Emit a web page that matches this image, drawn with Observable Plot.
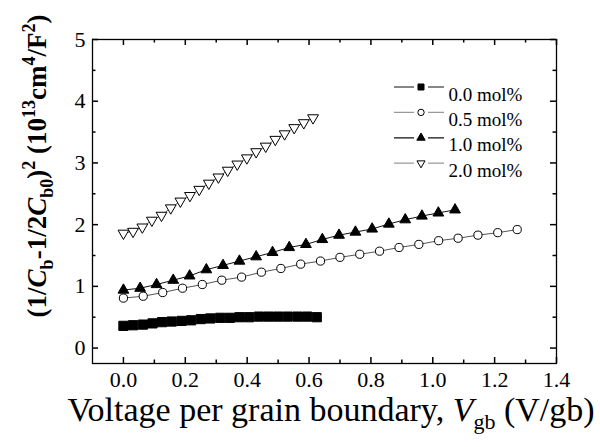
<!DOCTYPE html>
<html><head><meta charset="utf-8">
<script src="https://cdn.jsdelivr.net/npm/d3@7"></script>
<script src="https://cdn.jsdelivr.net/npm/@observablehq/plot@0.6"></script>
<style>body{margin:0;background:#fff}#chart{width:600px;height:447px}</style>
</head><body><div id="chart"></div>
<script>
const seriesNames = ["0.0 mol%", "0.5 mol%", "1.0 mol%", "2.0 mol%"];

const x00 = [0.000, 0.031, 0.063, 0.094, 0.125, 0.156, 0.188, 0.219, 0.250, 0.281, 0.313, 0.344, 0.375, 0.406, 0.438, 0.469, 0.500, 0.531, 0.563, 0.594, 0.625];
const y00 = [0.36, 0.37, 0.38, 0.40, 0.42, 0.43, 0.44, 0.45, 0.47, 0.48, 0.49, 0.49, 0.50, 0.50, 0.51, 0.51, 0.51, 0.51, 0.51, 0.51, 0.50];

const x05 = [0.000, 0.064, 0.127, 0.191, 0.255, 0.318, 0.382, 0.446, 0.509, 0.573, 0.637, 0.700, 0.764, 0.828, 0.891, 0.955, 1.019, 1.082, 1.146, 1.210, 1.273];
const y05 = [0.81, 0.84, 0.90, 0.97, 1.03, 1.10, 1.15, 1.23, 1.29, 1.36, 1.41, 1.47, 1.52, 1.57, 1.63, 1.68, 1.74, 1.78, 1.83, 1.87, 1.92];

const x10 = [0.000, 0.054, 0.107, 0.161, 0.214, 0.268, 0.322, 0.375, 0.429, 0.482, 0.536, 0.590, 0.643, 0.697, 0.750, 0.804, 0.858, 0.911, 0.965, 1.018, 1.072];
const y10 = [0.94, 0.97, 1.03, 1.10, 1.17, 1.27, 1.34, 1.41, 1.48, 1.55, 1.63, 1.68, 1.76, 1.83, 1.88, 1.93, 2.01, 2.08, 2.14, 2.19, 2.24];

const x20 = [0.000, 0.031, 0.061, 0.092, 0.123, 0.153, 0.184, 0.215, 0.245, 0.276, 0.307, 0.337, 0.368, 0.399, 0.429, 0.460, 0.491, 0.521, 0.552, 0.583, 0.613];
const y20 = [1.86, 1.89, 1.96, 2.07, 2.15, 2.27, 2.38, 2.47, 2.57, 2.67, 2.77, 2.88, 2.98, 3.08, 3.18, 3.27, 3.38, 3.47, 3.57, 3.65, 3.73];

const xTicks = [0.0, 0.2, 0.4, 0.6, 0.8, 1.0, 1.2, 1.4];
const xMinorTicks = [0.1, 0.3, 0.5, 0.7, 0.9, 1.1, 1.3];
const yTicks = [0, 1, 2, 3, 4, 5];
const yMinorTicks = [0.5, 1.5, 2.5, 3.5, 4.5];
const xDomain = [-0.1, 1.4];
const yDomain = [-0.25, 5];

const W = 600, H = 447, ML = 92, MR = 44, MT = 39, MB = 84;
// tick lengths expressed in data units of each scale
const xUnitPx = (W - ML - MR) / (xDomain[1] - xDomain[0]);
const yUnitPx = (H - MT - MB) / (yDomain[1] - yDomain[0]);

const triDown = {draw(ctx, size) {
  const y = -Math.sqrt(size / (3 * Math.sqrt(3)));
  ctx.moveTo(0, -2 * y);
  ctx.lineTo(-Math.sqrt(3) * y, y);
  ctx.lineTo(Math.sqrt(3) * y, y);
  ctx.closePath();
}};
const legendLine = {draw(ctx) { ctx.moveTo(-27, 0); ctx.lineTo(-7, 0); ctx.moveTo(7, 0); ctx.lineTo(23, 0); }};

const pts = (xs, ys) => xs.map((x, i) => ({x, y: ys[i]}));
const series = [
  {data: pts(x00, y00), line: "#111", symbol: "square", fill: "black", stroke: "black", r: 5.2, lr: 3.4},
  {data: pts(x05, y05), line: "#555", symbol: "circle", fill: "white", stroke: "black", r: 4.1, lr: 3.2},
  {data: pts(x10, y10), line: "#111", symbol: "triangle", fill: "black", stroke: "black", r: 4.0, lr: 3.1},
  {data: pts(x20, y20), line: "#666", symbol: triDown, fill: "white", stroke: "black", r: 4.0, lr: 3.0}
];
const legendLineColor = ["#111", "#999", "#111", "#999"];

const marks = [];
marks.push(Plot.frame({stroke: "black", strokeWidth: 1.3}));
for (const [t, len] of [[xTicks, 6], [xMinorTicks, 3.5]]) {
  const dyU = len / yUnitPx;
  marks.push(Plot.ruleX(t, {x: d => d, y1: () => yDomain[0], y2: () => yDomain[0] + dyU, stroke: "black", strokeWidth: 1.5}));
  marks.push(Plot.ruleX(t, {x: d => d, y1: () => yDomain[1] - dyU, y2: () => yDomain[1], stroke: "black", strokeWidth: 1.5}));
}
for (const [t, len] of [[yTicks, 6], [yMinorTicks, 3.5]]) {
  const dxU = len / xUnitPx;
  marks.push(Plot.ruleY(t, {y: d => d, x1: () => xDomain[0], x2: () => xDomain[0] + dxU, stroke: "black", strokeWidth: 1.5}));
  marks.push(Plot.ruleY(t, {y: d => d, x1: () => xDomain[1] - dxU, x2: () => xDomain[1], stroke: "black", strokeWidth: 1.5}));
}
marks.push(Plot.axisX({ticks: xTicks, tickSize: 0, tickPadding: 8, tickFormat: d3.format(".1f"), label: null, fontSize: 22}));
marks.push(Plot.axisY({ticks: yTicks, tickSize: 0, tickPadding: 7, tickFormat: d3.format("d"), label: null, fontSize: 22}));

for (const s of series) {
  marks.push(Plot.line(s.data, {x: "x", y: "y", stroke: s.line, strokeWidth: 1}));
}
for (const s of series) {
  marks.push(Plot.dot(s.data, {x: "x", y: "y", symbol: s.symbol, r: s.r, fill: s.fill, stroke: s.stroke, strokeWidth: 1}));
}
// legend
seriesNames.forEach((name, i) => {
  const s = series[i];
  const dy = 47.5 + i * 25.4;
  marks.push(Plot.dot([name], {x: null, y: null, frameAnchor: "top-left", dx: 328.5, dy, symbol: legendLine, r: 3, fill: "none", stroke: legendLineColor[i], strokeWidth: 1.2}));
  marks.push(Plot.dot([name], {x: null, y: null, frameAnchor: "top-left", dx: 328.5, dy, symbol: s.symbol, r: s.lr, fill: s.fill, stroke: s.stroke, strokeWidth: 1}));
  marks.push(Plot.text([name], {x: null, y: null, frameAnchor: "top-left", dx: 356, dy, textAnchor: "start", fontSize: 19, fill: "black"}));
});

const plot = Plot.plot({
  width: W, height: H,
  marginLeft: ML, marginRight: MR, marginTop: MT, marginBottom: MB,
  x: {domain: xDomain},
  y: {domain: yDomain},
  style: {fontFamily: "'Liberation Serif', 'Times New Roman', serif", fontSize: "22px", color: "black", background: "white"},
  marks
});

const svg = d3.select(plot);
const ff = "'Liberation Serif', 'Times New Roman', serif";
// x-axis title
const xt = svg.append("text").attr("x", 331).attr("y", 421).attr("text-anchor", "middle")
  .attr("font-family", ff).attr("font-size", 34).attr("fill", "black");
xt.append("tspan").text("Voltage per grain boundary, ");
xt.append("tspan").attr("font-style", "italic").text("V");
xt.append("tspan").attr("font-size", 22).attr("dy", 8).text("gb");
xt.append("tspan").attr("dy", -8).text(" (V/gb)");
// y-axis title
const yt = svg.append("text").attr("transform", "translate(46,166) rotate(-90)").attr("text-anchor", "middle")
  .attr("font-family", ff).attr("font-size", 27).attr("font-weight", "bold").attr("fill", "black");
const parts = [
  ["(1/", 0, null, null], ["C", 0, "italic", null], ["b", 7, null, 18], ["-1/2", -7, null, null],
  ["C", 0, "italic", null], ["b0", 7, null, 18], [")", -7, null, null], ["2", -11, null, 18],
  [" (10", 11, null, null], ["13", -11, null, 18], ["cm", 11, null, null], ["4", -11, null, 18],
  ["/F", 11, null, null], ["2", -11, null, 18], [")", 11, null, null]
];
for (const [t, dy, fs, size] of parts) {
  const ts = yt.append("tspan").attr("dy", dy).text(t);
  if (fs) ts.attr("font-style", fs);
  if (size) ts.attr("font-size", size);
}
document.getElementById("chart").appendChild(plot);
</script>
</body></html>
